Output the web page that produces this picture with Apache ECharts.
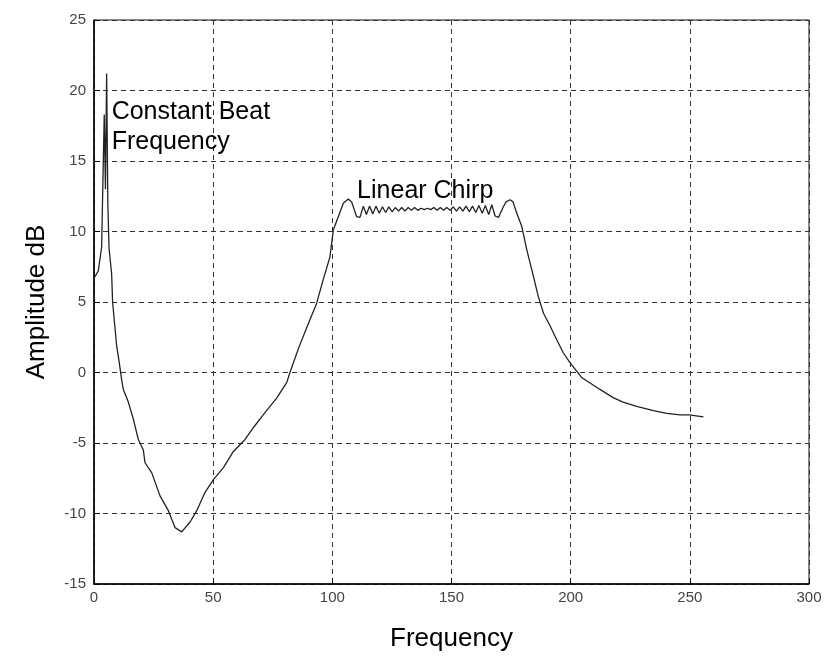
<!DOCTYPE html>
<html>
<head>
<meta charset="utf-8">
<script src="https://cdn.jsdelivr.net/npm/echarts@6/dist/echarts.min.js"></script>
<style>
html,body{margin:0;padding:0;background:#fff;}
#chart{width:829px;height:661px;}
</style>
</head>
<body>
<div id="chart"></div>
<script>
// Frequency (x) values
var freq = [
  0.4, 1.8, 3.2, 3.65, 4.3, 4.8, 5.3, 5.8, 6.3, 7.4, 7.8, 8.4, 9.5, 10.6, 11.6, 12.3, 14.4, 16.5, 18.6, 20.7,
  21.4, 24.2, 27.7, 31.2, 34.0, 36.8, 40.3, 43.1, 46.6, 50.1, 54.3, 58.5, 63.4, 66.9, 71.0, 76.7, 80.9, 82.2,
  86.0, 90.0, 93.4, 96.2, 99.0, 100.4, 102.5, 104.6, 106.7, 108.1, 110.2,
  111.6, 113.0, 114.3, 115.6, 117.0, 118.3, 119.7, 121.0, 122.4, 123.7, 125.1, 126.4, 127.8, 129.1, 130.5,
  131.8, 133.2, 134.5, 135.9, 137.2, 138.6, 139.9, 141.3, 142.6, 144.0, 145.3, 146.7, 148.0, 149.4, 150.7,
  152.1, 153.4, 154.8, 156.1, 157.5, 158.8, 160.2, 161.5, 162.9, 164.2, 165.6, 166.9, 168.3, 169.7,
  171.6, 172.9, 174.6, 175.8, 177.4, 179.5, 181.6, 184.4, 186.4, 188.6, 191.4, 194.2, 196.9, 199.7,
  204.6, 212.3, 218.0, 222.0, 227.7, 234.7, 240.3, 245.9, 249.7, 255.7
];
// Amplitude (dB) values
var amplitude = [
  6.8, 7.2, 8.9, 12.8, 18.3, 13.0, 21.2, 12.0, 8.85, 7.0, 5.0, 3.9, 1.9, 0.7, -0.5, -1.2, -2.1, -3.3, -4.75, -5.5,
  -6.4, -7.1, -8.75, -9.8, -11.0, -11.3, -10.6, -9.8, -8.5, -7.6, -6.75, -5.6, -4.75, -3.9, -3.0, -1.8, -0.7, 0.0,
  1.8, 3.5, 4.9, 6.6, 8.2, 10.1, 11.05, 12.0, 12.3, 12.1, 11.05,
  11.0, 11.8, 11.2, 11.8, 11.25, 11.8, 11.3, 11.75, 11.35, 11.75, 11.4, 11.7, 11.45, 11.7, 11.45,
  11.7, 11.5, 11.7, 11.5, 11.65, 11.55, 11.65, 11.55, 11.7, 11.5, 11.7, 11.5, 11.7, 11.5, 11.75,
  11.45, 11.75, 11.45, 11.8, 11.4, 11.8, 11.35, 11.85, 11.3, 11.85, 11.2, 11.9, 11.1, 11.0,
  11.7, 12.1, 12.25, 12.1, 11.3, 10.35, 8.7, 6.8, 5.4, 4.2, 3.3, 2.3, 1.4, 0.7,
  -0.35, -1.2, -1.8, -2.1, -2.4, -2.7, -2.9, -3.0, -3.0, -3.15
];
var xTicks = [0, 50, 100, 150, 200, 250, 300];
var yTicks = [-15, -10, -5, 0, 5, 10, 15, 20, 25];
var annotations = [
  {text: 'Constant Beat\nFrequency', x: 7.4, y: 19.5},
  {text: 'Linear Chirp', x: 110.4, y: 13.9}
];

var points = freq.map(function (f, i) { return [f, amplitude[i]]; });
var chart = echarts.init(document.getElementById('chart'));
var gridLine = {show: true, lineStyle: {color: '#333', type: [5, 4], width: 1}};
var tickLabel = {color: '#444', fontSize: 15, fontFamily: 'Liberation Sans, Arial, sans-serif'};
chart.setOption({
  animation: false,
  backgroundColor: '#fff',
  grid: {left: 94, right: 20, top: 20, bottom: 77, show: true, borderColor: '#111', borderWidth: 1},
  xAxis: {
    type: 'value', min: xTicks[0], max: xTicks[xTicks.length - 1], interval: 50,
    name: 'Frequency', nameLocation: 'middle', nameGap: 42,
    nameTextStyle: {fontSize: 26, color: '#000', fontFamily: 'Liberation Sans, Arial, sans-serif'},
    axisLine: {onZero: false, lineStyle: {color: '#000', width: 1.5}},
    axisTick: {inside: true, length: 6, lineStyle: {color: '#000'}},
    axisLabel: Object.assign({margin: 6}, tickLabel),
    splitLine: gridLine
  },
  yAxis: {
    type: 'value', min: yTicks[0], max: yTicks[yTicks.length - 1], interval: 5,
    name: 'Amplitude dB', nameLocation: 'middle', nameGap: 44,
    nameTextStyle: {fontSize: 26, color: '#000', fontFamily: 'Liberation Sans, Arial, sans-serif'},
    axisLine: {onZero: false, lineStyle: {color: '#000', width: 1.5}},
    axisTick: {inside: true, length: 6, lineStyle: {color: '#000'}},
    axisLabel: Object.assign({margin: 8}, tickLabel),
    splitLine: gridLine
  },
  series: [{
    type: 'line', data: points, showSymbol: false, symbol: 'none',
    lineStyle: {color: '#222', width: 1.3}
  }]
});
var g = annotations.map(function (a) {
  var p = chart.convertToPixel({gridIndex: 0}, [a.x, a.y]);
  return {
    type: 'text', left: p[0], top: p[1],
    style: {text: a.text, fill: '#000', fontSize: 25, lineHeight: 30,
      fontFamily: 'Liberation Sans, Arial, sans-serif'}
  };
});
chart.setOption({graphic: g});
</script>
</body>
</html>
